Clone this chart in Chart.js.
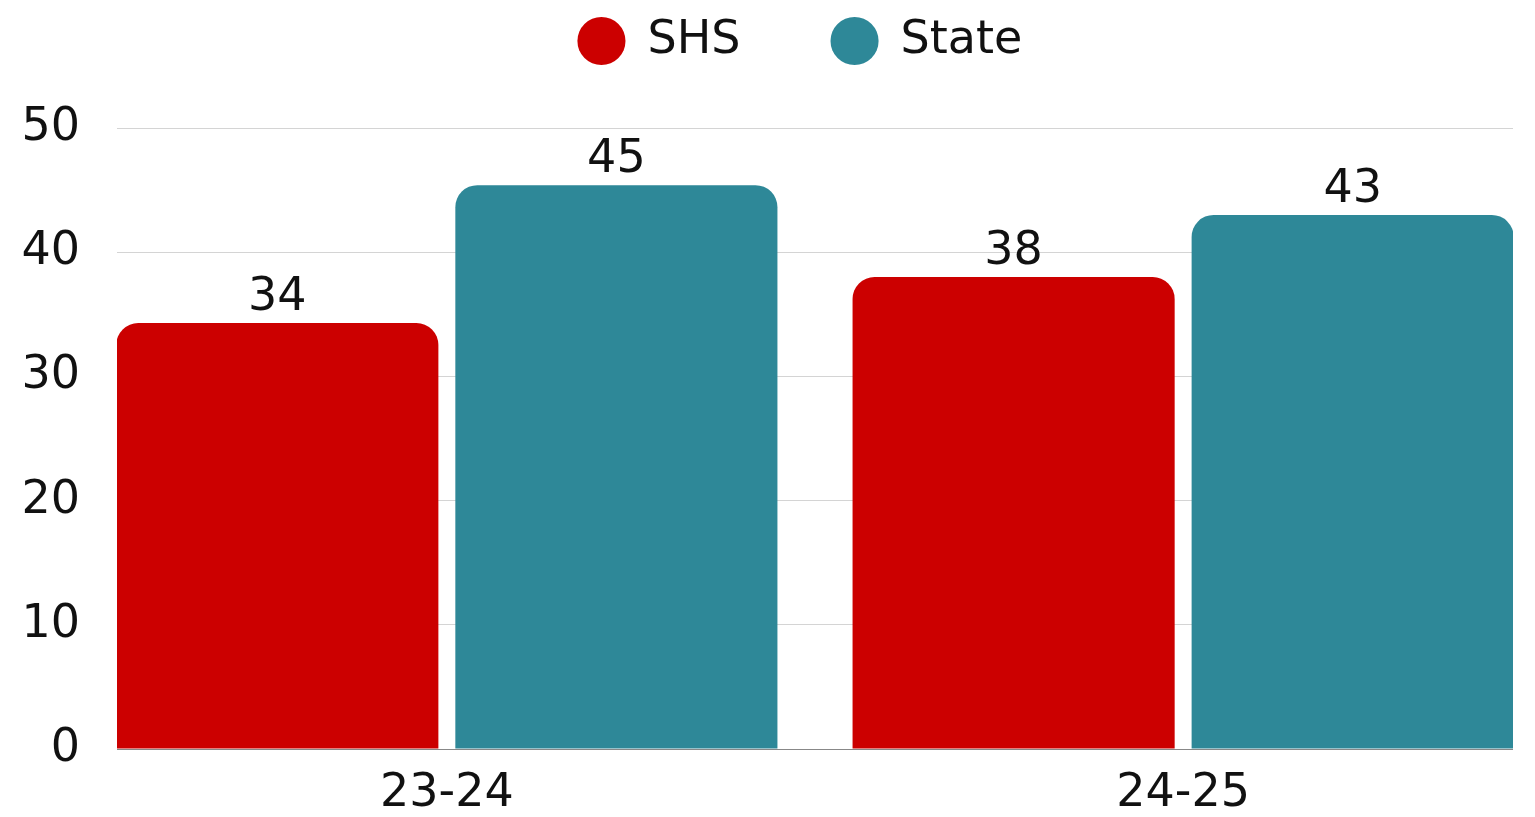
<!DOCTYPE html>
<html>
<head>
<meta charset="utf-8">
<title>SHS vs State</title>
<script src="https://cdn.jsdelivr.net/npm/chart.js@4/dist/chart.umd.min.js"></script>
<style>
  html, body { margin: 0; padding: 0; background: #fff; }
  #wrap { width: 1535px; height: 817px; }
</style>
</head>
<body>
<div id="wrap"><canvas id="scoreChart"></canvas></div>
<script>
// chart data
const years = ['23-24', '24-25'];
const shsValues = [34.3, 38.0];
const stateValues = [45.4, 43.0];
const yTicks = [0, 10, 20, 30, 40, 50];

const FONT = '"DejaVu Sans", "Open Sans", sans-serif';

// number above each bar
const barValueLabels = {
    id: 'barValueLabels',
    afterDatasetsDraw(chart) {
        const ctx = chart.ctx;
        ctx.save();
        ctx.font = '46px ' + FONT;
        ctx.fillStyle = '#111';
        ctx.textAlign = 'center';
        ctx.textBaseline = 'alphabetic';
        chart.data.datasets.forEach((ds, i) => {
            chart.getDatasetMeta(i).data.forEach((bar, j) => {
                ctx.fillText(Math.round(ds.data[j].y), bar.x, bar.y - 13);
            });
        });
        ctx.restore();
    }
};

const ctx = document.getElementById('scoreChart').getContext('2d');
const scoreChart = new Chart(ctx, {
    type: 'bar',
    data: {
        datasets: [{
            label: 'SHS',
            data: shsValues.map((v, i) => ({ x: i, y: v })),
            backgroundColor: '#cc0000',
            borderRadius: 22,
            borderSkipped: 'start'
        }, {
            label: 'State',
            data: stateValues.map((v, i) => ({ x: i, y: v })),
            backgroundColor: '#2e8898',
            borderRadius: 22,
            borderSkipped: 'start'
        }]
    },
    options: {
        responsive: true,
        maintainAspectRatio: false,
        animation: false,
        categoryPercentage: 0.921,
        barPercentage: 0.95,
        layout: { padding: { right: 22 } },
        scales: {
            x: {
                type: 'linear',
                offset: false,
                min: -0.448,
                max: years.length - 1 + 0.448,
                grid: { display: false, drawTicks: false },
                border: { display: false },
                afterBuildTicks: (scale) => {
                    scale.ticks = years.map((y, i) => ({ value: i }));
                },
                afterFit: (scale) => { scale.height = 68; },
                ticks: {
                    padding: 17,
                    color: '#111',
                    font: { family: FONT, size: 46 },
                    callback: (v) => years[v]
                }
            },
            y: {
                min: yTicks[0],
                max: yTicks[yTicks.length - 1],
                grid: {
                    drawTicks: false,
                    color: (c) => c.tick && c.tick.value === 0 ? '#888888' : '#d4d4d4',
                    lineWidth: 1
                },
                border: { display: false },
                afterBuildTicks: (scale) => {
                    scale.ticks = yTicks.map((v) => ({ value: v }));
                },
                afterFit: (scale) => { scale.width = 117; },
                ticks: {
                    padding: 37,
                    color: '#111',
                    font: { family: FONT, size: 46 }
                }
            }
        },
        plugins: {
            legend: {
                position: 'top',
                fullSize: false,
                labels: {
                    usePointStyle: true,
                    pointStyle: 'circle',
                    boxWidth: 46,
                    boxHeight: 34,
                    padding: 18,
                    color: '#111',
                    font: { family: FONT, size: 46 },
                    generateLabels: (chart) => {
                        const items = Chart.defaults.plugins.legend.labels.generateLabels(chart);
                        items.forEach((it, i) => {
                            it.text = it.text + '\u00a0'.repeat(i < items.length - 1 ? 5 : 2);
                        });
                        return items;
                    }
                }
            },
            subtitle: {
                display: true,
                text: '',
                weight: 500,
                fullSize: false,
                padding: 0,
                font: { size: 54, lineHeight: 1 }
            },
            tooltip: { enabled: false }
        }
    },
    plugins: [barValueLabels]
});
</script>
</body>
</html>
